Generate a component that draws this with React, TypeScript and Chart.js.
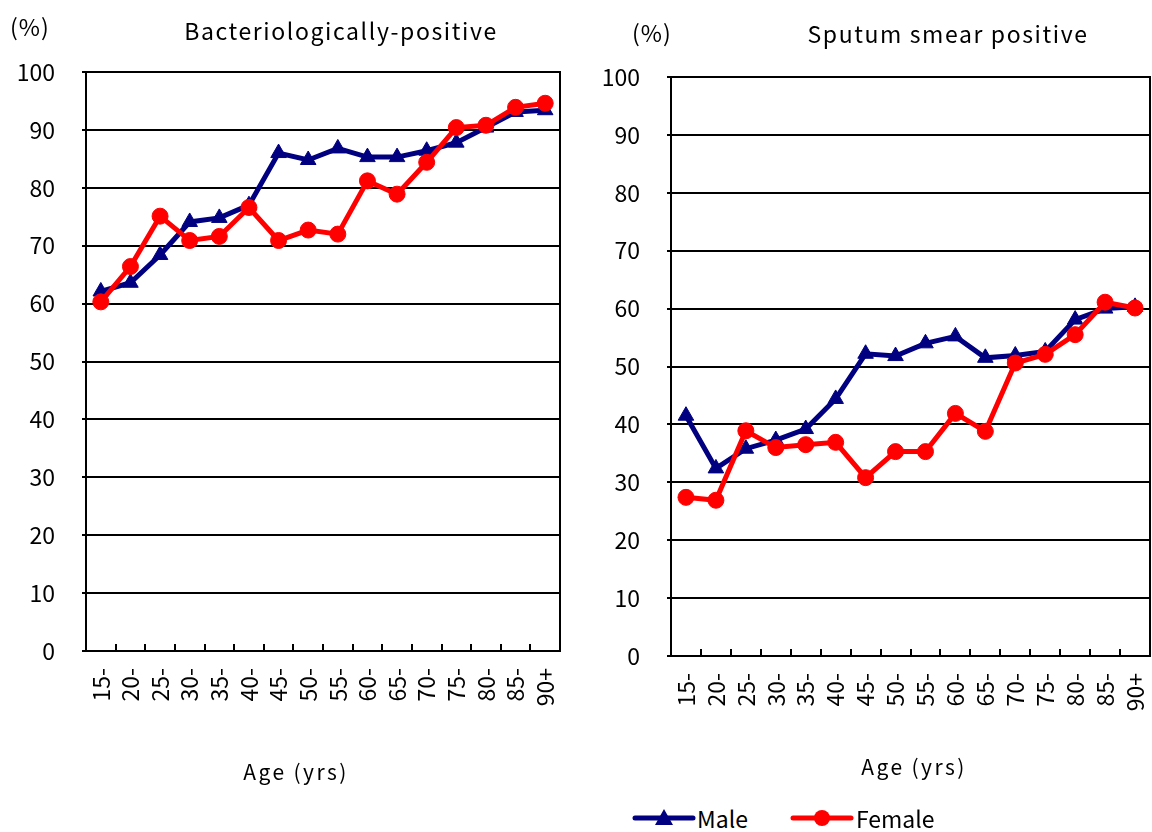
import React, { useEffect, useRef } from "react";
import { Chart, registerables } from "chart.js";

Chart.register(...registerables);

const ageGroups = ["15-", "20-", "25-", "30-", "35-", "40-", "45-", "50-", "55-", "60-", "65-", "70-", "75-", "80-", "85-", "90+"];

const bactMale = [62.1, 63.6, 68.4, 74.1, 74.8, 77.0, 86.0, 84.8, 86.8, 85.3, 85.3, 86.4, 87.8, 90.4, 93.1, 93.4];
const bactFemale = [60.3, 66.4, 75.1, 70.9, 71.6, 76.6, 70.9, 72.7, 72.0, 81.2, 78.9, 84.4, 90.4, 90.8, 93.9, 94.6];

const smearMale = [41.5, 32.4, 35.8, 37.3, 39.2, 44.4, 52.2, 51.8, 54.0, 55.2, 51.5, 51.9, 52.6, 58.1, 60.0, 60.3];
const smearFemale = [27.4, 26.9, 38.9, 36.0, 36.5, 36.9, 30.8, 35.3, 35.3, 41.9, 38.8, 50.6, 52.1, 55.5, 61.1, 60.1];

const yTicks = [0, 10, 20, 30, 40, 50, 60, 70, 80, 90, 100];

const FONT = "'Noto Sans CJK JP', 'Noto Sans', sans-serif";
const NAVY = "#000080";
const RED = "#FF0000";

const framePlugin = {
  id: "frameAndTicks",
  afterDatasetsDraw(chart: any) {
    const { ctx, chartArea } = chart;
    const x = chart.scales.x;
    ctx.save();
    ctx.strokeStyle = "#000";
    ctx.lineWidth = 2;
    ctx.beginPath();
    for (let i = 1; i < ageGroups.length; i++) {
      const px = Math.round((x.getPixelForValue(i - 1) + x.getPixelForValue(i)) / 2);
      ctx.moveTo(px, chartArea.bottom);
      ctx.lineTo(px, chartArea.bottom - 7);
    }
    ctx.stroke();
    ctx.restore();
  },
  beforeDatasetsDraw(chart: any) {
    const { ctx, chartArea } = chart;
    ctx.save();
    ctx.strokeStyle = "#000";
    ctx.lineWidth = 2;
    ctx.strokeRect(chartArea.left, chartArea.top, chartArea.right - chartArea.left, chartArea.bottom - chartArea.top);
    ctx.restore();
  },
};

function makeConfig(male: number[], female: number[], padTop: number, padRight: number, yWidth: number, xHeight: number) {
  return {
    type: "line" as const,
    data: {
      labels: ageGroups,
      datasets: [
        {
          label: "Male",
          data: male,
          borderColor: NAVY,
          backgroundColor: NAVY,
          borderWidth: 5,
          pointStyle: "triangle",
          pointRadius: 9,
          pointBorderWidth: 1,
          order: 1,
        },
        {
          label: "Female",
          data: female,
          borderColor: RED,
          backgroundColor: RED,
          borderWidth: 5,
          pointStyle: "circle",
          pointRadius: 8,
          pointBorderWidth: 1,
          order: 0,
        },
      ],
    },
    options: {
      responsive: false,
      animation: false,
      layout: { padding: { top: padTop, right: padRight, left: 0, bottom: 0 } },
      plugins: { legend: { display: false }, tooltip: { enabled: false }, title: { display: false } },
      scales: {
        x: {
          offset: true,
          grid: { display: false, drawTicks: false },
          border: { display: true, color: "#000", width: 2 },
          ticks: {
            autoSkip: false,
            minRotation: 90,
            maxRotation: 90,
            padding: 17,
            color: "#000",
            font: { family: FONT, size: 23 },
          },
          afterFit(scale: any) {
            scale.height = xHeight;
            scale.paddingLeft = 0;
            scale.paddingRight = 0;
          },
        },
        y: {
          min: 0,
          max: 100,
          afterBuildTicks(scale: any) {
            scale.ticks = yTicks.map((v) => ({ value: v }));
          },
          grid: { color: "#000", lineWidth: 2, drawTicks: true, tickLength: 4 },
          border: { display: true, color: "#000", width: 2 },
          ticks: {
            padding: 27,
            color: "#000",
            font: { family: FONT, size: 23 },
          },
          afterFit(scale: any) {
            scale.width = yWidth;
            scale.paddingTop = 0;
            scale.paddingBottom = 0;
          },
        },
      },
    },
    plugins: [framePlugin],
  };
}

function LineChart(props: { male: number[]; female: number[]; left: number; width: number; height: number; padTop: number; padRight: number; yWidth: number; xHeight: number }) {
  const ref = useRef<HTMLCanvasElement | null>(null);
  useEffect(() => {
    if (!ref.current) return;
    const chart = new Chart(ref.current, makeConfig(props.male, props.female, props.padTop, props.padRight, props.yWidth, props.xHeight) as any);
    return () => chart.destroy();
  }, []);
  return (
    <canvas
      ref={ref}
      width={props.width}
      height={props.height}
      style={{ position: "absolute", left: props.left, top: 0, width: props.width, height: props.height }}
    />
  );
}

const textStyle = (left: number, top: number, size: number, extra: any = {}) => ({
  position: "absolute" as const,
  left,
  top,
  fontFamily: FONT,
  fontSize: size,
  color: "#000",
  whiteSpace: "nowrap" as const,
  lineHeight: 1,
  ...extra,
});

export default function App() {
  return (
    <div style={{ position: "absolute", left: 0, top: 0, width: 1152, height: 832, background: "#fff", overflow: "hidden" }}>
      <LineChart male={bactMale} female={bactFemale} left={0} width={580} height={760} padTop={72} padRight={20} yWidth={86} xHeight={109} />
      <LineChart male={smearMale} female={smearFemale} left={580} width={580} height={765} padTop={77} padRight={5} yWidth={91} xHeight={109} />

      <div style={textStyle(10, 15, 23, { letterSpacing: 1 })}>(%)</div>
      <div style={textStyle(341, 19, 23, { transform: "translateX(-50%)", letterSpacing: 1.6 })}>Bacteriologically-positive</div>
      <div style={textStyle(632, 21, 23, { letterSpacing: 1 })}>(%)</div>
      <div style={textStyle(948, 22, 23, { transform: "translateX(-50%)", letterSpacing: 1.6 })}>Sputum smear positive</div>

      <div style={textStyle(296, 761, 21, { transform: "translateX(-50%)", letterSpacing: 2.4 })}>Age (yrs)</div>
      <div style={textStyle(914, 756, 21, { transform: "translateX(-50%)", letterSpacing: 2.4 })}>Age (yrs)</div>

      <div style={{ position: "absolute", left: 632, top: 806, display: "flex", alignItems: "center", fontFamily: FONT, fontSize: 23 }}>
        <svg width={64} height={24} style={{ display: "block" }}>
          <line x1={3} y1={12} x2={61} y2={12} stroke={NAVY} strokeWidth={5} strokeLinecap="round" />
          <polygon points="32,3 41,19 23,19" fill={NAVY} />
        </svg>
        <span style={{ marginLeft: 1, lineHeight: 1 }}>Male</span>
        <svg width={64} height={24} style={{ display: "block", marginLeft: 42 }}>
          <line x1={3} y1={12} x2={61} y2={12} stroke={RED} strokeWidth={5} strokeLinecap="round" />
          <circle cx={32} cy={12} r={8} fill={RED} />
        </svg>
        <span style={{ marginLeft: 2, lineHeight: 1 }}>Female</span>
      </div>
    </div>
  );
}
